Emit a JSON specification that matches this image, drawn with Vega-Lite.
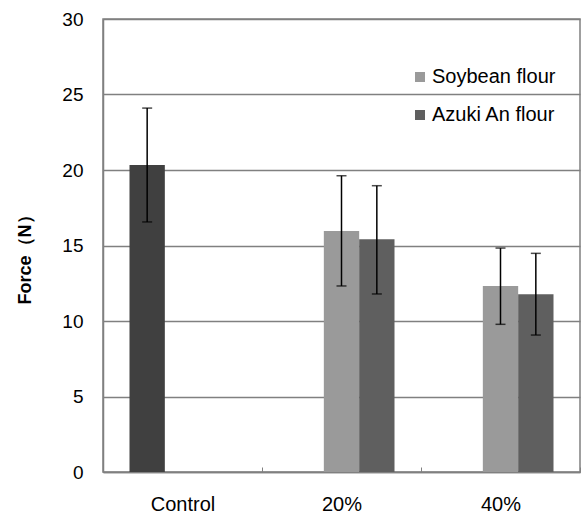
{
  "$schema": "https://vega.github.io/schema/vega-lite/v6.json",
  "width": 477,
  "height": 453,
  "autosize": {"type": "none"},
  "padding": {"left": 103, "top": 19, "right": 2, "bottom": 41},
  "background": "white",
  "config": {
    "font": "Liberation Sans",
    "view": {"stroke": "#808080", "strokeWidth": 1.5},
    "axis": {"labelFont": "Liberation Sans", "titleFont": "Liberation Sans"}
  },
  "data": {
    "values": [
      {"group": "Control", "series": "Control", "mean": 20.33, "lo": 16.56, "hi": 24.1},
      {"group": "20%", "series": "Soybean flour", "mean": 15.96, "lo": 12.32, "hi": 19.62},
      {"group": "20%", "series": "Azuki An flour", "mean": 15.41, "lo": 11.79, "hi": 18.96},
      {"group": "40%", "series": "Soybean flour", "mean": 12.32, "lo": 9.78, "hi": 14.83},
      {"group": "40%", "series": "Azuki An flour", "mean": 11.77, "lo": 9.07, "hi": 14.48}
    ]
  },
  "encoding": {
    "x": {
      "field": "group",
      "type": "nominal",
      "sort": ["Control", "20%", "40%"],
      "scale": {"paddingInner": 0, "paddingOuter": 0},
      "axis": {
        "title": null,
        "labelAngle": 0,
        "labelFontSize": 20,
        "labelColor": "#000",
        "labelPadding": 27,
        "domainColor": "#808080",
        "domainWidth": 1.5,
        "tickBand": "extent",
        "tickColor": "#808080",
        "tickSize": -5,
        "grid": false
      }
    },
    "xOffset": {
      "field": "series",
      "type": "nominal",
      "sort": ["Control", "Soybean flour", "Azuki An flour"],
      "scale": {"domain": ["Control", "Soybean flour", "Azuki An flour"], "paddingInner": 0, "paddingOuter": 0.75}
    }
  },
  "layer": [
    {
      "mark": {"type": "bar"},
      "encoding": {
        "y": {
          "field": "mean",
          "type": "quantitative",
          "title": "Force（N）",
          "scale": {"domain": [0, 30]},
          "axis": {
            "values": [0, 5, 10, 15, 20, 25, 30],
            "title": "Force（N）",
            "titleFontSize": 18,
            "titleFontWeight": "bold",
            "titleColor": "#000",
            "titleX": -78,
            "titleY": 236,
            "titleAngle": -90,
            "titleAlign": "center",
            "titleBaseline": "middle",
            "labelFontSize": 19,
            "labelColor": "#000",
            "labelPadding": 20,
            "ticks": false,
            "domainColor": "#808080",
            "domainWidth": 1.5,
            "grid": true,
            "gridColor": "#808080",
            "gridWidth": 1.3
          }
        },
        "color": {
          "field": "series",
          "type": "nominal",
          "scale": {
            "domain": ["Control", "Soybean flour", "Azuki An flour"],
            "range": ["#404040", "#9a9a9a", "#5f5f5f"]
          },
          "legend": {
            "title": null,
            "values": ["Soybean flour", "Azuki An flour"],
            "orient": "none",
            "legendX": 307,
            "legendY": 48,
            "padding": 0,
            "symbolType": "square",
            "symbolSize": 100,
            "symbolStrokeWidth": 0,
            "labelFontSize": 20,
            "labelColor": "#000",
            "labelOffset": 2,
            "rowPadding": 18
          }
        }
      }
    },
    {
      "mark": {"type": "errorbar", "ticks": {"size": 10, "color": "#000", "thickness": 1.5}, "color": "#000", "thickness": 1.5},
      "encoding": {
        "y": {"field": "lo", "type": "quantitative", "title": "Force（N）"},
        "y2": {"field": "hi"}
      }
    }
  ]
}
